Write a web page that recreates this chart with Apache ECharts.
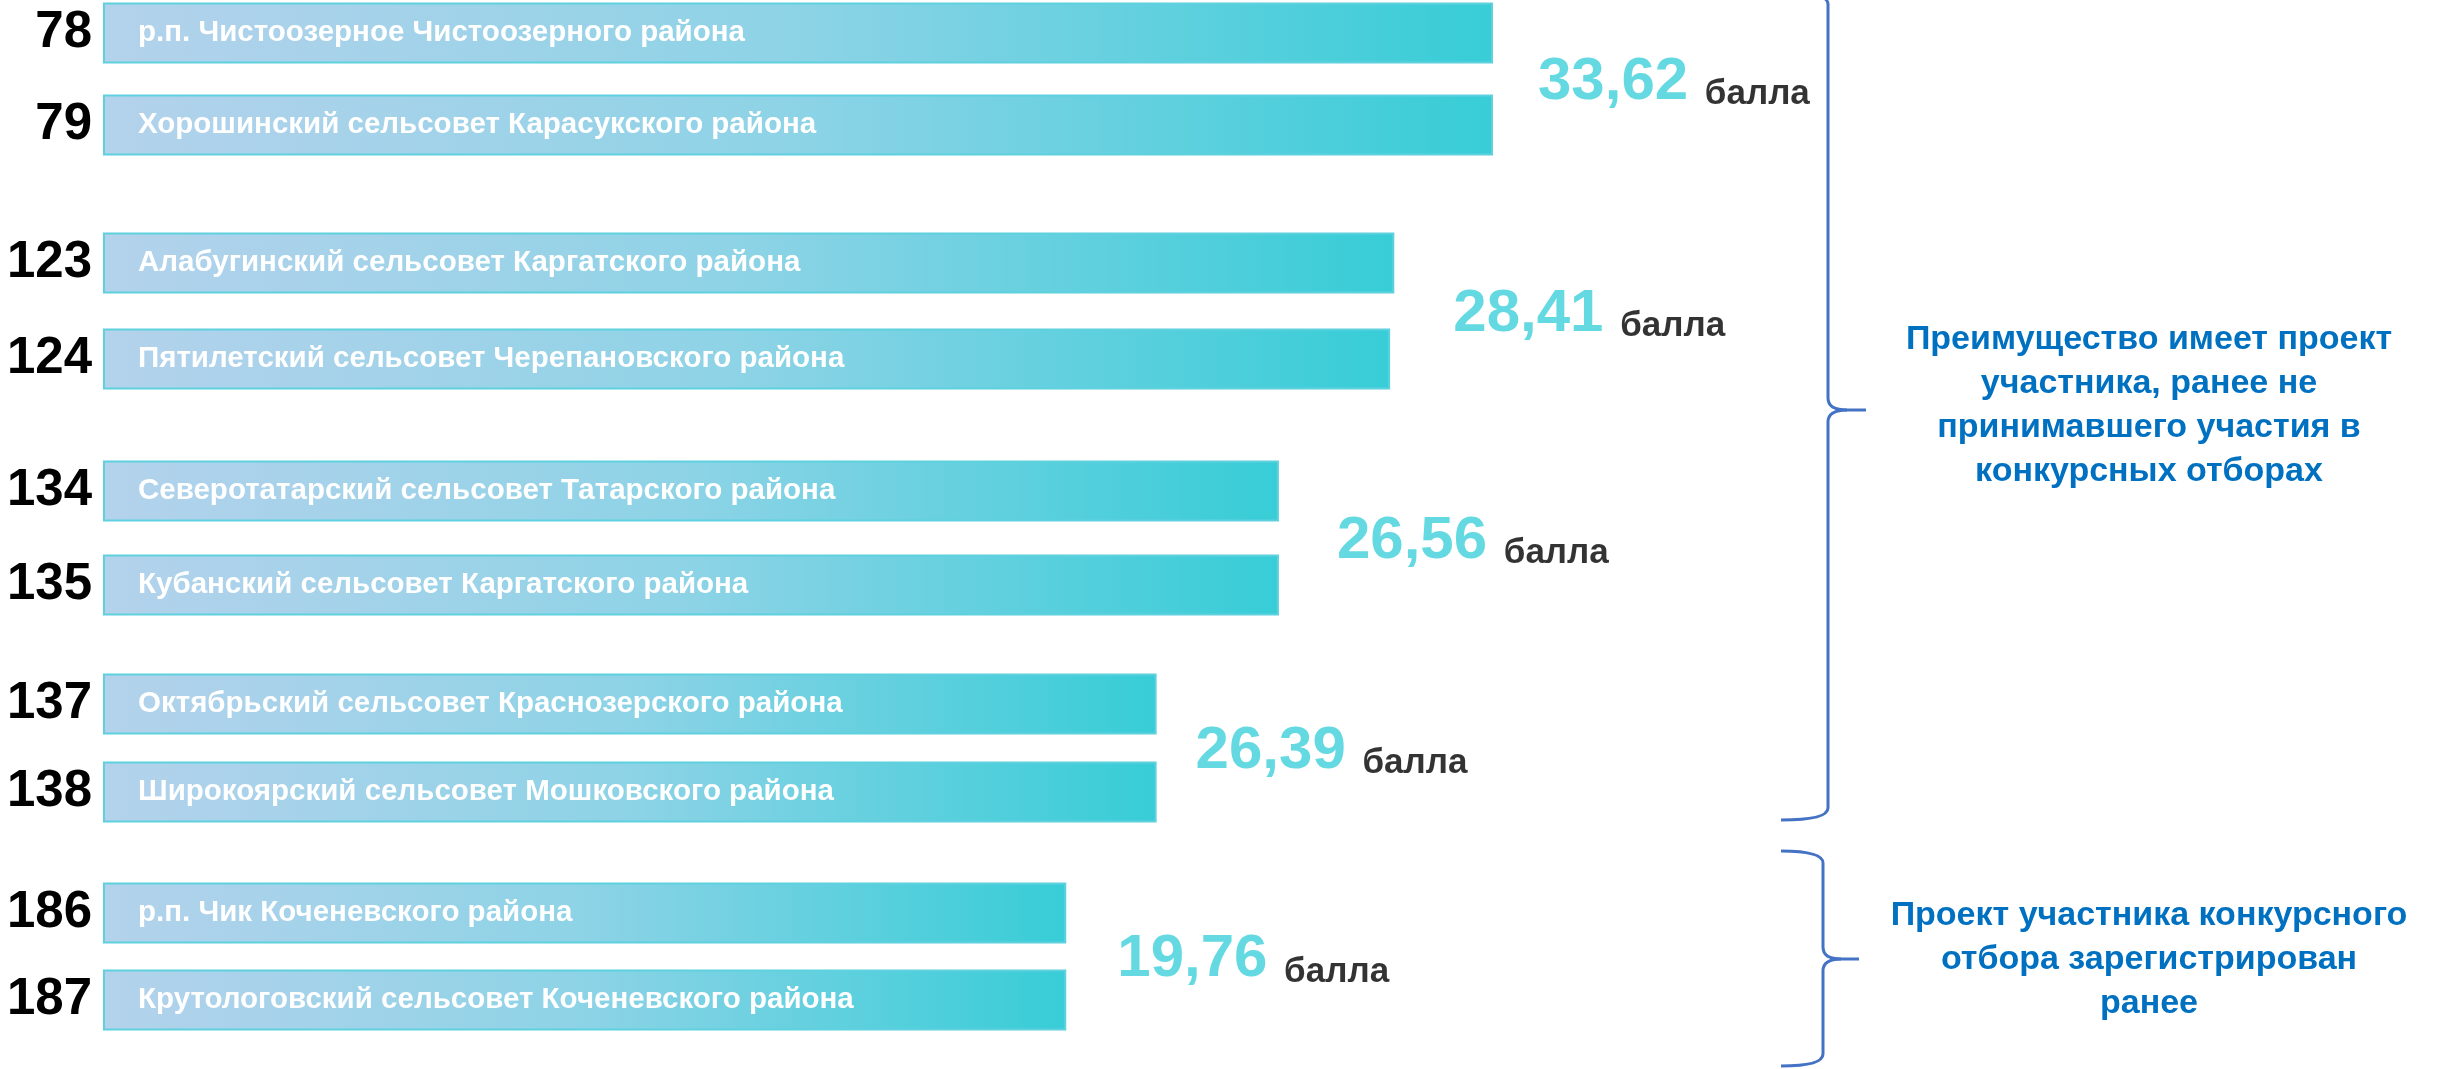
<!DOCTYPE html>
<html>
<head>
<meta charset="utf-8">
<script src="https://cdn.jsdelivr.net/npm/echarts@6/dist/echarts.min.js"></script>
<style>
    html, body { margin: 0; padding: 0; background: #ffffff; }
    #rating-chart { width: 2458px; height: 1069px; }
</style>
</head>
<body>
<div id="rating-chart"></div>
<script>
// place in the rating, as printed left of each bar
const RANKS = ['78', '79', '123', '124', '134', '135', '137', '138', '186', '187'];

const NAMES = [
    'р.п. Чистоозерное Чистоозерного района',
    'Хорошинский сельсовет Карасукского района',
    'Алабугинский сельсовет Каргатского района',
    'Пятилетский сельсовет Черепановского района',
    'Северотатарский сельсовет Татарского района',
    'Кубанский сельсовет Каргатского района',
    'Октябрьский сельсовет Краснозерского района',
    'Широкоярский сельсовет Мошковского района',
    'р.п. Чик Коченевского района',
    'Крутологовский сельсовет Коченевского района'
];

// bar length as drawn, % of the longest bar
const BAR_LENGTH = [100, 100, 92.9, 92.6, 84.6, 84.6, 75.8, 75.8, 69.3, 69.3];

// score shared by each pair of bars
const GROUP_SCORES = [33.62, 28.41, 26.56, 26.39, 19.76];
const SCORE_UNIT = 'балла';

const NOTE_TEXTS = [
    'Преимущество имеет проект\nучастника, ранее не\nпринимавшего участия в\nконкурсных отборах',
    'Проект участника конкурсного\nотбора зарегистрирован\nранее'
];

// layout of the five pairs (pixels)
const GROUP_TOP = [-13, 215, 444, 660, 869.5];
const GROUP_PITCH = [92, 96, 94, 88, 87];
const SCORE_GAP = [45, 59, 58, 39, 51];

const FONT = '"Liberation Sans", Arial, sans-serif';
const SCORE_COLOR = '#3ecfd9';
const NOTE_COLOR = '#0070c0';
const BRACE_COLOR = '#4472c4';

let rating_chart = echarts.init(document.getElementById('rating-chart'));

let grids = [];
let x_axes = [];
let y_axes = [];
let series = [];

for (let g = 0; g < GROUP_SCORES.length; g++) {
    let from = g * 2;
    let lengths = BAR_LENGTH.slice(from, from + 2);

    // outerBoundsMode none: the top pair is allowed to start above the canvas edge
    grids.push({
        left: 103,
        width: 1390,
        top: GROUP_TOP[g],
        height: GROUP_PITCH[g] * 2,
        outerBoundsMode: 'none'
    });

    x_axes.push({type: 'value', gridIndex: g, min: 0, max: 100, show: false});

    y_axes.push({
        type: 'category',
        gridIndex: g,
        inverse: true,
        data: RANKS.slice(from, from + 2),
        axisLine: {show: false},
        axisTick: {show: false},
        axisLabel: {
            color: '#000000',
            fontSize: 51,
            fontWeight: 'bold',
            fontFamily: FONT,
            margin: 11,
            padding: [8, 0, 0, 0]
        }
    });
    y_axes.push({type: 'value', gridIndex: g, min: 0, max: 1, inverse: true, show: false});

    series.push({
        type: 'bar',
        xAxisIndex: g,
        yAxisIndex: g * 2,
        barWidth: 61,
        silent: true,
        data: lengths.map(function (v, i) {
            return {value: v, name: NAMES[from + i]};
        }),
        itemStyle: {
            color: {
                type: 'linear',
                x: 0, y: 0, x2: 1, y2: 0,
                colorStops: [
                    {offset: 0, color: '#b4d2ec'},
                    {offset: 0.5, color: '#8dd3e6'},
                    {offset: 1, color: '#37cdd7'}
                ]
            },
            borderColor: '#5fd1de',
            borderWidth: 2
        },
        label: {
            show: true,
            position: 'insideLeft',
            distance: 35,
            formatter: '{b}',
            color: '#ffffff',
            fontSize: 29.5,
            fontWeight: 'bold',
            fontFamily: FONT,
            textBorderWidth: 0
        }
    });

    // score label sits between the two bars, right of the longer one
    series.push({
        type: 'scatter',
        xAxisIndex: g,
        yAxisIndex: g * 2 + 1,
        symbolSize: 0,
        silent: true,
        data: [[Math.max.apply(null, lengths), 0.5]],
        label: {
            show: true,
            position: 'right',
            distance: SCORE_GAP[g],
            offset: [0, 3],
            formatter: '{v|' + GROUP_SCORES[g].toFixed(2).replace('.', ',') + ' }{u|' + SCORE_UNIT + '}',
            rich: {
                v: {
                    color: SCORE_COLOR,
                    fontSize: 60,
                    fontWeight: 'bold',
                    fontFamily: FONT,
                    lineHeight: 60,
                    verticalAlign: 'bottom'
                },
                u: {
                    color: '#000000',
                    fontSize: 35,
                    fontWeight: 'bold',
                    fontFamily: FONT,
                    lineHeight: 42,
                    verticalAlign: 'bottom'
                }
            }
        }
    });
}

// right curly brace built from lines and quadratic curves
function brace(x, top, bottom, mid, hook, tip) {
    let r = 12;
    let style = {stroke: BRACE_COLOR, lineWidth: 3, fill: null};
    let curve = function (x1, y1, x2, y2, cx, cy) {
        return {type: 'bezierCurve', shape: {x1: x1, y1: y1, x2: x2, y2: y2, cpx1: cx, cpy1: cy}, style: style};
    };
    let line = function (x1, y1, x2, y2) {
        return {type: 'line', shape: {x1: x1, y1: y1, x2: x2, y2: y2}, style: style};
    };
    return {
        type: 'group',
        children: [
            curve(x - hook, top, x, top + r, x, top),
            line(x, top + r, x, mid - r),
            curve(x, mid - r, x + tip * 0.5, mid, x, mid),
            line(x + tip * 0.5, mid, x + tip, mid),
            curve(x, mid + r, x + tip * 0.5, mid, x, mid),
            line(x, mid + r, x, bottom - r),
            curve(x, bottom - r, x - hook, bottom, x, bottom)
        ]
    };
}

let graphic = [
    brace(1828, -8, 820, 410, 47, 38),
    brace(1823, 851, 1066, 959, 42, 36),
    {
        type: 'text',
        x: 2149,
        y: 406,
        style: {
            text: NOTE_TEXTS[0],
            font: 'bold 34px ' + FONT,
            fill: NOTE_COLOR,
            lineHeight: 44,
            align: 'center',
            verticalAlign: 'middle'
        }
    },
    {
        type: 'text',
        x: 2149,
        y: 960,
        style: {
            text: NOTE_TEXTS[1],
            font: 'bold 34px ' + FONT,
            fill: NOTE_COLOR,
            lineHeight: 44,
            align: 'center',
            verticalAlign: 'middle'
        }
    }
];

rating_chart.setOption({
    animation: false,
    backgroundColor: '#ffffff',
    grid: grids,
    xAxis: x_axes,
    yAxis: y_axes,
    series: series,
    graphic: graphic
});

window.addEventListener('resize', function () {
    rating_chart.resize();
});
</script>
</body>
</html>
